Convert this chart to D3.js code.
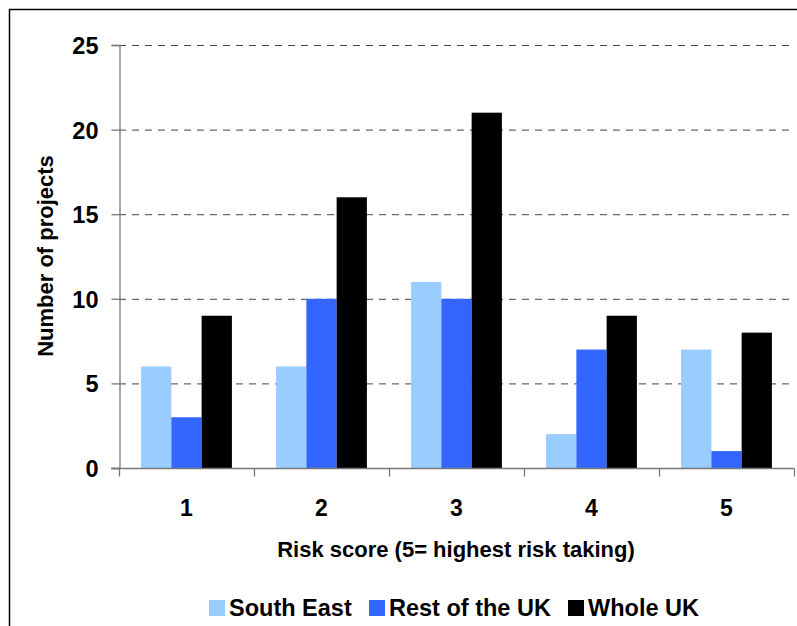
<!DOCTYPE html>
<html>
<head>
<meta charset="utf-8">
<script src="https://cdn.jsdelivr.net/npm/d3@7"></script>
<style>
  html, body { margin: 0; padding: 0; background: #fff; }
  svg text { font-family: "Liberation Sans", Arial, sans-serif; font-weight: bold; fill: #000; }
</style>
</head>
<body>
<svg id="chart" width="797" height="626"></svg>
<script>
// Risk score categories and project counts per region
const categories = ["1", "2", "3", "4", "5"];
const seriesNames = ["South East", "Rest of the UK", "Whole UK"];
const southEast = [6, 6, 11, 2, 7];
const restOfUK = [3, 10, 10, 7, 1];
const wholeUK = [9, 16, 21, 9, 8];
const yTicks = [0, 5, 10, 15, 20, 25];
const colors = ["#99CCFF", "#3366FF", "#000000"];

const svg = d3.select("#chart");
const plotLeft = 119, plotRight = 794, plotTop = 45, plotBottom = 468;

// Outer frame of the chart area
svg.append("path")
  .attr("d", "M9.5,626 L9.5,9.5 L797,9.5")
  .attr("fill", "none").attr("stroke", "#000").attr("stroke-width", 1.5);

const x = d3.scaleBand().domain(categories).range([plotLeft, plotRight]).paddingInner(0).paddingOuter(0);
const inner = d3.scaleBand().domain(seriesNames).range([0, x.bandwidth()]).paddingInner(0).paddingOuter(0.73);
const y = d3.scaleLinear().domain([0, 25]).range([plotBottom, plotTop]);

// Dashed gridlines
svg.append("g").selectAll("line").data(yTicks.filter(d => d > 0)).join("line")
  .attr("x1", plotLeft).attr("x2", plotRight)
  .attr("y1", d => y(d) + 0.5).attr("y2", d => y(d) + 0.5)
  .attr("stroke", "#444").attr("stroke-width", 1).attr("stroke-dasharray", "7,6");

// Bars
const data = categories.map((c, i) => ({ c, vals: [southEast[i], restOfUK[i], wholeUK[i]] }));
const groups = svg.append("g").selectAll("g").data(data).join("g")
  .attr("transform", d => `translate(${x(d.c)},0)`);
groups.selectAll("rect").data(d => d.vals.map((v, j) => ({ v, s: seriesNames[j], j }))).join("rect")
  .attr("x", d => inner(d.s))
  .attr("width", inner.bandwidth())
  .attr("y", d => y(d.v))
  .attr("height", d => y(0) - y(d.v))
  .attr("fill", d => colors[d.j]);

// Y axis
const yAxis = svg.append("g").attr("transform", `translate(${plotLeft + 0.5},0)`)
  .call(d3.axisLeft(y).tickValues(yTicks).tickSize(8).tickPadding(13));
yAxis.selectAll("path, line").attr("stroke", "#777").attr("stroke-width", 1.3);
yAxis.selectAll("text").attr("font-size", 23.5).attr("dy", "0.36em")
  .attr("font-family", "Liberation Sans, Arial, sans-serif").attr("font-weight", "bold");

// X axis with ticks at category boundaries
const xAxis = svg.append("g").attr("transform", `translate(0,${plotBottom + 0.5})`);
xAxis.append("line").attr("x1", plotLeft - 8).attr("x2", plotRight).attr("stroke", "#777").attr("stroke-width", 1.3);
const bounds = categories.map(c => x(c)).concat([plotRight]);
xAxis.selectAll(".tk").data(bounds).join("line").attr("class", "tk")
  .attr("x1", d => d + 0.5).attr("x2", d => d + 0.5).attr("y1", 0).attr("y2", 8)
  .attr("stroke", "#777").attr("stroke-width", 1.3);
xAxis.selectAll("text").data(categories).join("text")
  .attr("x", d => x(d) + x.bandwidth() / 2).attr("y", 47)
  .attr("text-anchor", "middle").attr("font-size", 23).text(d => d);

// Axis titles
svg.append("text").attr("x", 456).attr("y", 557).attr("text-anchor", "middle")
  .attr("font-size", 22).text("Risk score (5= highest risk taking)");
svg.append("text").attr("transform", "translate(53,256) rotate(-90)").attr("text-anchor", "middle")
  .attr("font-size", 22).text("Number of projects");

// Legend
const legendItems = [
  { name: seriesNames[0], x: 209 },
  { name: seriesNames[1], x: 369 },
  { name: seriesNames[2], x: 568 }
];
const lg = svg.append("g").selectAll("g").data(legendItems).join("g")
  .attr("transform", d => `translate(${d.x},0)`);
lg.append("rect").attr("x", 0).attr("y", 600).attr("width", 16).attr("height", 16)
  .attr("fill", (d, i) => colors[i]);
lg.append("text").attr("x", 20).attr("y", 616).attr("font-size", 23.5).text(d => d.name);
</script>
</body>
</html>
